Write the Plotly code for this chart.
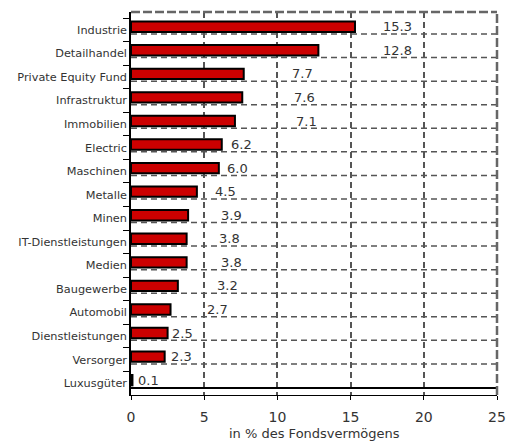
import plotly.graph_objects as go

categories = ["Industrie", "Detailhandel", "Private Equity Fund", "Infrastruktur",
              "Immobilien", "Electric", "Maschinen", "Metalle", "Minen",
              "IT-Dienstleistungen", "Medien", "Baugewerbe", "Automobil",
              "Dienstleistungen", "Versorger", "Luxusgüter"]
values = [15.3, 12.8, 7.7, 7.6, 7.1, 6.2, 6.0, 4.5, 3.9, 3.8, 3.8, 3.2, 2.7, 2.5, 2.3, 0.1]
x_ticks = [0, 5, 10, 15, 20, 25]
x_title = "in % des Fondsvermögens"

# label placement (pixel shift from bar end), styling only
label_shift_px = [43, 79, 59, 62, 72, 20, 19, 29, 43, 43, 45, 50, 47, 15, 17, 16]

FONT = "DejaVu Sans"
TXT = "#333333"
GRID = "#555555"

fig = go.Figure()
fig.add_trace(go.Bar(
    x=values, y=categories, orientation="h",
    width=0.44, offset=-0.35,
    marker=dict(color="#cc0000", line=dict(color="black", width=2)),
    hoverinfo="x+y",
))

n = len(categories)
shapes = []
# horizontal dashed grid lines just below each bar
for k in range(n - 1):
    shapes.append(dict(type="line", xref="x", yref="y", x0=0, x1=x_ticks[-1],
                       y0=k + 0.18, y1=k + 0.18,
                       line=dict(color=GRID, width=1.5, dash="6px,4px"), layer="below"))
# solid floor line
shapes.append(dict(type="line", xref="x", yref="y", x0=0, x1=x_ticks[-1],
                   y0=n - 1 + 0.2, y1=n - 1 + 0.2,
                   line=dict(color="black", width=2)))
# top and right borders
shapes.append(dict(type="line", xref="paper", yref="paper", x0=0, x1=1, y0=1, y1=1,
                   line=dict(color="#666666", width=2.5, dash="9px,3px")))
shapes.append(dict(type="line", xref="paper", yref="paper", x0=1, x1=1, y0=0, y1=1,
                   line=dict(color="#666666", width=2.5, dash="9px,3px")))

annotations = []
for c, v, s in zip(categories, values, label_shift_px):
    annotations.append(dict(x=v, y=c, xref="x", yref="y", text=f"{v:.1f}",
                            showarrow=False, xanchor="center", yanchor="middle",
                            xshift=s, yshift=3,
                            font=dict(family=FONT, size=13, color=TXT)))
# axis title
annotations.append(dict(x=0.5, y=0, xref="paper", yref="paper", text=x_title,
                        showarrow=False, xanchor="center", yanchor="top",
                        yshift=-30, borderpad=0,
                        font=dict(family=FONT, size=13, color=TXT)))

fig.update_layout(
    width=506, height=441,
    margin=dict(l=131, r=9, t=12, b=46),
    paper_bgcolor="white", plot_bgcolor="white",
    showlegend=False,
    shapes=shapes, annotations=annotations,
    font=dict(family=FONT, color=TXT),
    xaxis=dict(range=[0, 25], tickvals=x_ticks, ticktext=[str(t) for t in x_ticks],
               ticks="outside", ticklen=4, tickcolor="black",
               showline=True, linecolor="black", linewidth=1,
               showgrid=True, gridcolor=GRID, gridwidth=1.5, griddash="6px,4px",
               zeroline=False, ticklabelstandoff=5, automargin=False,
               ticklabeloverflow="allow",
               tickfont=dict(family=FONT, size=14, color=TXT)),
    yaxis=dict(type="category", categoryorder="array", categoryarray=categories,
               range=[n - 0.5, -0.755], tickson="boundaries",
               ticks="outside", ticklen=6, tickcolor="black",
               showline=True, linecolor="black", linewidth=1.5,
               showgrid=False, zeroline=False, automargin=False,
               tickfont=dict(family=FONT, size=11.3, color=TXT)),
    bargap=0.5,
)

fig.write_html("out.html", config={"displayModeBar": False},
               post_script="document.body.style.margin='0';")
